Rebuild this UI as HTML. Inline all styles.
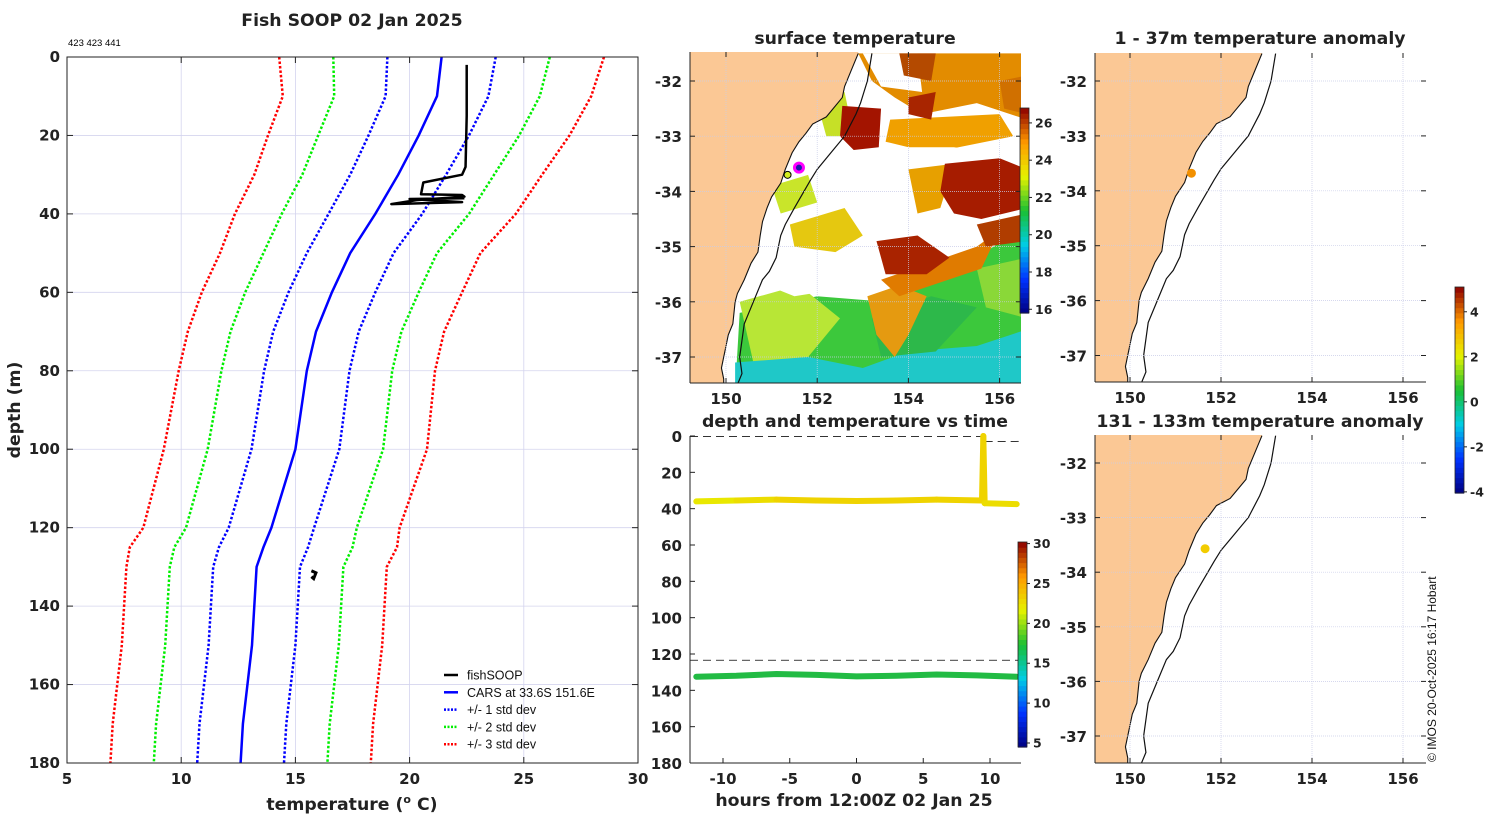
<!DOCTYPE html>
<html><head><meta charset="utf-8">
<style>
html,body{margin:0;padding:0;background:#fff;}
svg{display:block;font-family:"Liberation Sans","DejaVu Sans",sans-serif;}
.b{font-family:"DejaVu Sans","Liberation Sans",sans-serif;font-weight:bold;fill:#222;}
</style></head>
<body>
<svg id="fig" width="1500" height="820" viewBox="0 0 1500 820" xmlns="http://www.w3.org/2000/svg">
</svg>
<script>
// ---------- profile data ----------
const depths   = [0, 10, 20, 30, 40, 50, 60, 70, 80, 100, 120, 125, 130, 150, 170, 180];
const carsMean = [21.4, 21.2, 20.4, 19.5, 18.5, 17.4, 16.6, 15.9, 15.5, 15.0, 13.95, 13.6, 13.3, 13.1, 12.7, 12.6];
const carsStd  = [2.37, 2.25, 2.2, 2.1, 2.05, 1.9, 1.9, 1.87, 1.87, 1.92, 1.87, 1.95, 1.9, 1.9, 1.9, 1.9];
const soopTemp  = [22.5, 22.5, 22.45, 22.3, 20.6, 20.5, 22.3, 22.4, 20.3, 19.2, 22.3, 20.0, 22.4];
const soopDepth = [2, 15, 28, 30, 32, 35, 35.2, 35.6, 36.5, 37.5, 37.0, 36.2, 36.0];
const soopDeepTemp  = [15.7, 15.9, 15.8, 15.7];
const soopDeepDepth = [131, 131.5, 133, 132.5];
const tempTicks  = [5, 10, 15, 20, 25, 30];
const depthTicks = [0, 20, 40, 60, 80, 100, 120, 140, 160, 180];
// ---------- time series data ----------
const hours       = [-12, -9, -6, -3, 0, 3, 6, 9.4, 9.5, 9.6, 12];
const shallowDep  = [36, 35.5, 35, 35.5, 35.8, 35.5, 35, 35.5, 0, 37, 37.5];
const shallowTemp = [22, 22.5, 23, 23, 23, 23, 23, 23, 23, 22.5, 22];
const deepHours   = [-12, -9, -6, -3, 0, 3, 6, 9, 12];
const deepDep     = [132.5, 132, 131, 131.5, 132.3, 132, 131.3, 131.8, 132.5];
const hourTicks   = [-10, -5, 0, 5, 10];
// ---------- map data ----------
const coastLon = [152.9,152.75,152.6,152.55,152.3,152.2,151.9,151.75,151.6,151.45,151.3,151.2,151.0,150.9,150.8,150.75,150.7,150.55,150.4,150.25,150.2,150.15,150.05,150.0,149.9,149.95,149.95];
const coastLat = [-31.5,-31.8,-32.1,-32.3,-32.55,-32.65,-32.78,-32.95,-33.1,-33.3,-33.6,-33.85,-34.1,-34.3,-34.55,-34.8,-35.1,-35.3,-35.6,-35.85,-36.0,-36.4,-36.6,-36.8,-37.2,-37.4,-37.5];
const shelfLon = [153.2,153.1,152.95,152.85,152.6,152.3,152.0,151.85,151.5,151.3,151.2,151.1,150.95,150.8,150.6,150.4,150.3,150.35,150.25];
const shelfLat = [-31.5,-32.0,-32.4,-32.6,-33.0,-33.3,-33.6,-33.8,-34.3,-34.6,-34.8,-35.2,-35.45,-35.6,-36.0,-36.4,-37.0,-37.3,-37.5];
const lonTicks = [150, 152, 154, 156];
const latTicks = [-32, -33, -34, -35, -36, -37];
const sstTicks = [16, 18, 20, 22, 24, 26];
const anomTicks = [-4, -2, 0, 2, 4];
const tsTicks = [5, 10, 15, 20, 25, 30];

const NS = "http://www.w3.org/2000/svg";
const fig = document.getElementById('fig');
function el(tag, attrs, parent, text){
  const e = document.createElementNS(NS, tag);
  for (const k in attrs) e.setAttribute(k, attrs[k]);
  if (text !== undefined) e.textContent = text;
  (parent || fig).appendChild(e);
  return e;
}
function jet(t){
  const c=[[0,0,0.5],[0,0.2,1],[0,0.8,0.9],[0.1,0.75,0.2],[0.9,0.95,0],[1,0.6,0],[0.55,0,0]];
  const p=Math.max(0,Math.min(1,t))*(c.length-1), i=Math.min(c.length-2,Math.floor(p)), f=p-i;
  const r=c[i].map((v,k)=>Math.round(255*(v+(c[i+1][k]-v)*f)));
  return `rgb(${r[0]},${r[1]},${r[2]})`;
}
const TITLE = 17.3;

// ================= Profile plot =================
const PX0=67, PX1=638, PY0=57, PY1=763;
const px = t => PX0 + (t-5)/25*(PX1-PX0);
const py = d => PY0 + d/180*(PY1-PY0);
const gp = el('g', {}, fig);


tempTicks.slice(1,-1).forEach(t=>{
  const l = el('line',{x1:px(t),x2:px(t),y1:PY0,y2:PY1,stroke:'#d4d4ee','stroke-width':0.8},gp);
  
  
});
depthTicks.slice(1,-1).forEach(d=>{
  const l = el('line',{x1:PX0,x2:PX1,y1:py(d),y2:py(d),stroke:'#d4d4ee','stroke-width':0.8},gp);
  
  
});
function profPath(k, color, dash, name){
  const pts = depths.map((d,i)=>`${px(carsMean[i]+k*carsStd[i]).toFixed(1)},${py(d).toFixed(1)}`).join(' ');
  const p = el('polyline',{points:pts,fill:'none',stroke:color,'stroke-width':2.5,'stroke-dasharray':dash?'2.5,2':'none'},gp);
  
  
}
profPath(-3,'#ff0000',true,'minus-3-std-line');
profPath(3,'#ff0000',true,'plus-3-std-line');
profPath(-2,'#00ee00',true,'minus-2-std-line');
profPath(2,'#00ee00',true,'plus-2-std-line');
profPath(-1,'#0000ff',true,'minus-1-std-line');
profPath(1,'#0000ff',true,'plus-1-std-line');
profPath(0,'#0000ff',false,'cars-mean-line');
const sp = el('polyline',{points:soopTemp.map((t,i)=>`${px(t)},${py(soopDepth[i])}`).join(' '),fill:'none',stroke:'#000','stroke-width':2.5,'stroke-linejoin':'round'},gp);


const sp2 = el('polyline',{points:soopDeepTemp.map((t,i)=>`${px(t)},${py(soopDeepDepth[i])}`).join(' '),fill:'none',stroke:'#000','stroke-width':3},gp);


el('rect',{x:PX0,y:PY0,width:PX1-PX0,height:PY1-PY0,fill:'none',stroke:'#222','stroke-width':1},gp);
tempTicks.forEach(t=>{
  el('line',{x1:px(t),x2:px(t),y1:PY1,y2:PY1-6,stroke:'#222'},gp);
  el('line',{x1:px(t),x2:px(t),y1:PY0,y2:PY0+6,stroke:'#222'},gp);
  const tx = el('text',{x:px(t),y:PY1+21,'text-anchor':'middle','font-size':15,class:'b'},gp,String(t));
  
  
});
depthTicks.forEach(d=>{
  el('line',{x1:PX0,x2:PX0+6,y1:py(d),y2:py(d),stroke:'#222'},gp);
  el('line',{x1:PX1,x2:PX1-6,y1:py(d),y2:py(d),stroke:'#222'},gp);
  const tx = el('text',{x:PX0-7,y:py(d)+5,'text-anchor':'end','font-size':15,class:'b'},gp,String(d));
  
  
});
const legItems = [['fishSOOP','#000',false],['CARS at 33.6S 151.6E','#0000ff',false],['+/- 1 std dev','#0000ff',true],['+/- 2 std dev','#00ee00',true],['+/- 3 std dev','#ff0000',true]];
const lg = el('g',{},gp);


legItems.forEach((it,i)=>{
  const y = 675 + i*17.3;
  el('line',{x1:444,x2:458,y1:y,y2:y,stroke:it[1],'stroke-width':2.5,'stroke-dasharray':it[2]?'2,1.5':'none'},lg);
  const tx = el('text',{x:467,y:y+4.5,'font-size':12.5,fill:'#111'},lg,it[0]);
  
  
});
let t1 = el('text',{x:352,y:26,'text-anchor':'middle','font-size':TITLE,class:'b',fill:'#000'},fig,'Fish SOOP 02 Jan 2025');
 
t1 = el('text',{x:68,y:46,'font-size':9.5,fill:'#000'},fig,'423 423 441');
 
t1 = el('text',{x:0,y:0,'text-anchor':'middle','font-size':TITLE,class:'b',transform:'translate(20,410) rotate(-90)'},fig,'depth (m)');
 
t1 = el('text',{x:352,y:810,'text-anchor':'middle','font-size':TITLE,class:'b'},fig,'');
t1.innerHTML = 'temperature (<tspan dy="-7" font-size="11">o</tspan><tspan dy="7"> C)</tspan>';
 

// ================= Map helper =================
function makeMap(name, X0, X1, Y0, Y1, lon150, pxDeg, latTop, lat32, pyDeg){
  const g = el('g',{},fig);
  
  
  const mx = lo => lon150 + (lo-150)*pxDeg;
  const my = la => lat32 + (-32-la)*pyDeg;
  const cid = name+'-clip';
  const cp = el('clipPath',{id:cid},g);
  el('rect',{x:X0,y:Y0,width:X1-X0,height:Y1-Y0},cp);
  const inner = el('g',{'clip-path':`url(#${cid})`},g);
  return {g, inner, mx, my, X0, X1, Y0, Y1};
}
function mapFinish(m){
  const {g, inner, mx, my, X0, X1, Y0, Y1} = m;
  let pts = coastLon.map((lo,i)=>`${mx(lo)},${my(coastLat[i])}`);
  pts = [`${X0-5},${Y0-5}`, `${mx(coastLon[0])},${Y0-5}`, ...pts, `${mx(coastLon[coastLon.length-1])},${Y1+5}`, `${X0-5},${Y1+5}`];
  const land = el('polygon',{points:pts.join(' '),fill:'#fbc895',stroke:'none'},inner);
  
  
  const cl = el('polyline',{points:coastLon.map((lo,i)=>`${mx(lo)},${my(coastLat[i])}`).join(' '),fill:'none',stroke:'#111','stroke-width':1.1},inner);
  
  
  const sh = el('polyline',{points:shelfLon.map((lo,i)=>`${mx(lo)},${my(shelfLat[i])}`).join(' '),fill:'none',stroke:'#111','stroke-width':1.2},inner);
  
  
  lonTicks.forEach(lo=>{
    el('line',{x1:mx(lo),x2:mx(lo),y1:Y0,y2:Y1,stroke:'#c8cce8','stroke-width':0.7,'stroke-dasharray':'1,1'},g);
    el('line',{x1:mx(lo),x2:mx(lo),y1:Y1,y2:Y1-5,stroke:'#222'},g);
    el('line',{x1:mx(lo),x2:mx(lo),y1:Y0,y2:Y0+5,stroke:'#222'},g);
    const t = el('text',{x:mx(lo),y:Y1+21,'text-anchor':'middle','font-size':15,class:'b'},g,String(lo));
     
  });
  latTicks.forEach(la=>{
    el('line',{x1:X0,x2:X1,y1:my(la),y2:my(la),stroke:'#c8cce8','stroke-width':0.7,'stroke-dasharray':'1,1'},g);
    el('line',{x1:X0,x2:X0+5,y1:my(la),y2:my(la),stroke:'#222'},g);
    el('line',{x1:X1,x2:X1-5,y1:my(la),y2:my(la),stroke:'#222'},g);
    const t = el('text',{x:X0-8,y:my(la)+6,'text-anchor':'end','font-size':15,class:'b'},g,String(la));
     
  });
  el('line',{x1:X0,x2:X0,y1:Y0,y2:Y1,stroke:'#222'},g);
  el('line',{x1:X0,x2:X1,y1:Y1,y2:Y1,stroke:'#222'},g);
}

// ================= SST map =================
const sst = makeMap('sst-map', 690, 1021, 52, 383, 726, 45.6, -31.5, 81, 55.2);
{
  const {inner, mx, my} = sst;
  const blob = (pts, col) => {
    const p = el('polygon',{points:pts.map(q=>`${mx(q[0])},${my(q[1])}`).join(' '),fill:col},inner);
    
    
  };
  blob([[150.3,-36.2],[152,-35.9],[153.5,-36.0],[154.5,-35.6],[155.5,-35.2],[156.6,-34.6],[156.6,-37.6],[150.2,-37.6]],'#3cc83c');
  blob([[150.3,-36.0],[151.6,-35.7],[152.5,-36.3],[151.8,-37.0],[150.6,-37.1]],'#b8e636');
  blob([[150.2,-37.1],[151.8,-37.0],[153,-37.2],[154,-36.9],[155.5,-36.8],[156.6,-36.5],[156.6,-37.6],[150.2,-37.6]],'#1fc8c8');
  blob([[153.2,-36.3],[154.5,-35.9],[155.5,-36.1],[154.6,-36.9],[153.4,-37.0]],'#2db84a');
  blob([[155.5,-35.4],[156.6,-35.2],[156.6,-36.3],[155.7,-36.1]],'#8ad838');
  blob([[150.7,-34.8],[152.4,-34.8],[153.0,-35.7],[151.5,-35.9],[150.6,-35.6]],'#ffffff');
  blob([[153.1,-35.9],[153.8,-35.7],[154.4,-35.9],[154.0,-36.6],[153.7,-37.0],[153.3,-36.6]],'#e59a10');
  blob([[153.4,-35.6],[155.5,-35.0],[156.0,-34.7],[155.6,-35.4],[153.8,-35.9]],'#e07b00');
  blob([[151.4,-34.6],[152.6,-34.3],[153.0,-34.8],[152.4,-35.1],[151.5,-35.0]],'#e5c810');
  blob([[151.0,-33.9],[151.8,-33.7],[152.0,-34.2],[151.2,-34.4]],'#c9e52a');
  blob([[152.0,-32.4],[152.6,-32.2],[152.8,-33.0],[152.2,-33.0]],'#c6e027');
  blob([[152.9,-31.5],[156.6,-31.5],[156.6,-32.7],[155.5,-32.4],[154.3,-32.6],[153.7,-32.3],[153.2,-32.0]],'#e38c00');
  blob([[153.0,-31.5],[154.2,-31.5],[154.3,-32.2],[153.4,-32.1]],'#ffffff');
  blob([[153.6,-32.7],[156.0,-32.6],[156.3,-33.0],[154.5,-33.3],[153.5,-33.1]],'#f0a000');
  blob([[153.2,-33.2],[155.0,-33.2],[156.6,-33.4],[156.6,-34.2],[155.0,-34.8],[153.8,-34.3],[153.2,-33.8]],'#ffffff');
  blob([[154.0,-33.6],[155.0,-33.5],[154.7,-34.3],[154.2,-34.4]],'#e7a000');
  blob([[152.55,-32.45],[153.4,-32.5],[153.35,-33.2],[152.8,-33.25],[152.5,-33.0]],'#a31400');
  blob([[154.0,-32.3],[154.6,-32.2],[154.5,-32.7],[154.0,-32.6]],'#a82500');
  blob([[153.8,-31.5],[154.6,-31.5],[154.5,-32.0],[153.9,-31.9]],'#b44a00');
  blob([[154.8,-33.5],[156.0,-33.4],[156.6,-33.6],[156.6,-34.3],[155.6,-34.5],[155.0,-34.4],[154.7,-34.0]],'#a61c00');
  blob([[153.3,-34.9],[154.2,-34.8],[154.9,-35.2],[154.4,-35.5],[153.5,-35.5]],'#a92300');
  blob([[155.5,-34.6],[156.6,-34.4],[156.6,-34.9],[155.7,-35.0]],'#b03d00');
  blob([[156.0,-32.0],[156.6,-31.9],[156.6,-32.6],[156.1,-32.5]],'#d07000');
  mapFinish(sst);
  const m1 = el('circle',{cx:mx(151.6),cy:my(-33.57),r:4.5,fill:'#1a1aaa',stroke:'#ff00ff','stroke-width':3},sst.g);
   
  const m2 = el('circle',{cx:mx(151.35),cy:my(-33.7),r:3.5,fill:'#d4ee20',stroke:'#000','stroke-width':1},sst.g);
   
  let t = el('text',{x:855,y:44,'text-anchor':'middle','font-size':TITLE,class:'b',fill:'#000'},fig,'surface temperature');
   
}
function colorbar(name, x, yTop, yBot, vmin, vmax, ticks){
  const g = el('g',{},fig);
  
  
  const n=40;
  for(let i=0;i<n;i++){
    const y0 = yBot - (i+1)*(yBot-yTop)/n;
    el('rect',{x:x,y:y0,width:9,height:(yBot-yTop)/n+0.6,fill:jet((i+0.5)/n)},g);
  }
  el('rect',{x:x,y:yTop,width:9,height:yBot-yTop,fill:'none',stroke:'#222','stroke-width':0.8},g);
  ticks.forEach(v=>{
    const y = yBot - (v-vmin)/(vmax-vmin)*(yBot-yTop);
    el('line',{x1:x+9,x2:x+12,y1:y,y2:y,stroke:'#222'},g);
    const t = el('text',{x:x+15,y:y+4.5,'font-size':12.5,class:'b'},g,String(v));
     
  });
}
colorbar('sst-colorbar', 1020, 108, 313, 15.8, 26.8, sstTicks);

// ================= Depth/time plot =================
const TX0=690, TX1=1021, TY0=436, TY1=763;
const tx = h => 856.5 + h*13.35;
const ty = d => TY0 + d/180*(TY1-TY0);
{
  const g = el('g',{},fig);
  
  
  let l = el('line',{x1:TX0,x2:tx(9.5),y1:ty(0.3),y2:ty(0.3),stroke:'#333','stroke-dasharray':'8,5','stroke-width':1},g);
   
  l = el('line',{x1:tx(9.6),x2:TX1,y1:ty(3),y2:ty(3),stroke:'#333','stroke-dasharray':'8,5','stroke-width':1},g);
   
  l = el('line',{x1:TX0,x2:TX1,y1:ty(123.5),y2:ty(123.5),stroke:'#666','stroke-dasharray':'8,5','stroke-width':1.2},g);
   
  for(let i=0;i<hours.length-1;i++){
    const s = el('line',{x1:tx(hours[i]),y1:ty(shallowDep[i]),x2:tx(hours[i+1]),y2:ty(shallowDep[i+1]),stroke:jet((shallowTemp[i]-4.5)/25.5),'stroke-width':6,'stroke-linecap':'round'},g);
     
  }
  const dp = el('polyline',{points:deepHours.map((h,i)=>`${tx(h)},${ty(deepDep[i])}`).join(' '),fill:'none',stroke:'#22bb44','stroke-width':6,'stroke-linecap':'round'},g);
   
  el('line',{x1:TX0,x2:TX0,y1:TY0,y2:TY1,stroke:'#222'},g);
  el('line',{x1:TX0,x2:TX1,y1:TY1,y2:TY1,stroke:'#222'},g);
  hourTicks.forEach(h=>{
    el('line',{x1:tx(h),x2:tx(h),y1:TY1,y2:TY1-5,stroke:'#222'},g);
    const t = el('text',{x:tx(h),y:TY1+21,'text-anchor':'middle','font-size':15,class:'b'},g,String(h));
     
  });
  depthTicks.forEach(d=>{
    el('line',{x1:TX0,x2:TX0+5,y1:ty(d),y2:ty(d),stroke:'#222'},g);
    const t = el('text',{x:TX0-8,y:ty(d)+6,'text-anchor':'end','font-size':15,class:'b'},g,String(d));
     
  });
  let t = el('text',{x:855,y:427,'text-anchor':'middle','font-size':TITLE,class:'b',fill:'#000'},fig,'depth and temperature vs time');
   
  t = el('text',{x:854,y:806,'text-anchor':'middle','font-size':TITLE,class:'b'},fig,'hours from 12:00Z 02 Jan 25');
   
}
colorbar('time-colorbar', 1018, 542, 747, 4.5, 30.2, tsTicks);

// ================= Anomaly maps =================
const a1 = makeMap('anomaly-map-shallow', 1095, 1426, 53, 382, 1130, 45.5, -31.5, 81, 54.9);
mapFinish(a1);
let mk = el('circle',{cx:a1.mx(151.35),cy:a1.my(-33.68),r:4.5,fill:'#f29000'},a1.g);
 
let tt = el('text',{x:1260,y:44,'text-anchor':'middle','font-size':TITLE,class:'b',fill:'#000'},fig,'1 - 37m temperature anomaly');
 
const a2 = makeMap('anomaly-map-deep', 1095, 1426, 435, 763, 1130, 45.5, -31.5, 463, 54.6);
mapFinish(a2);
mk = el('circle',{cx:a2.mx(151.65),cy:a2.my(-33.57),r:4.5,fill:'#f2cc00'},a2.g);
 
tt = el('text',{x:1260,y:427,'text-anchor':'middle','font-size':TITLE,class:'b',fill:'#000'},fig,'131 - 133m temperature anomaly');
 
colorbar('anomaly-colorbar', 1455, 287, 493, -4.05, 5.1, anomTicks);

tt = el('text',{x:0,y:0,'font-size':12,fill:'#111',transform:'translate(1436,762) rotate(-90)'},fig,'© IMOS 20-Oct-2025 16:17 Hobart');
 
</script>
</body></html>
